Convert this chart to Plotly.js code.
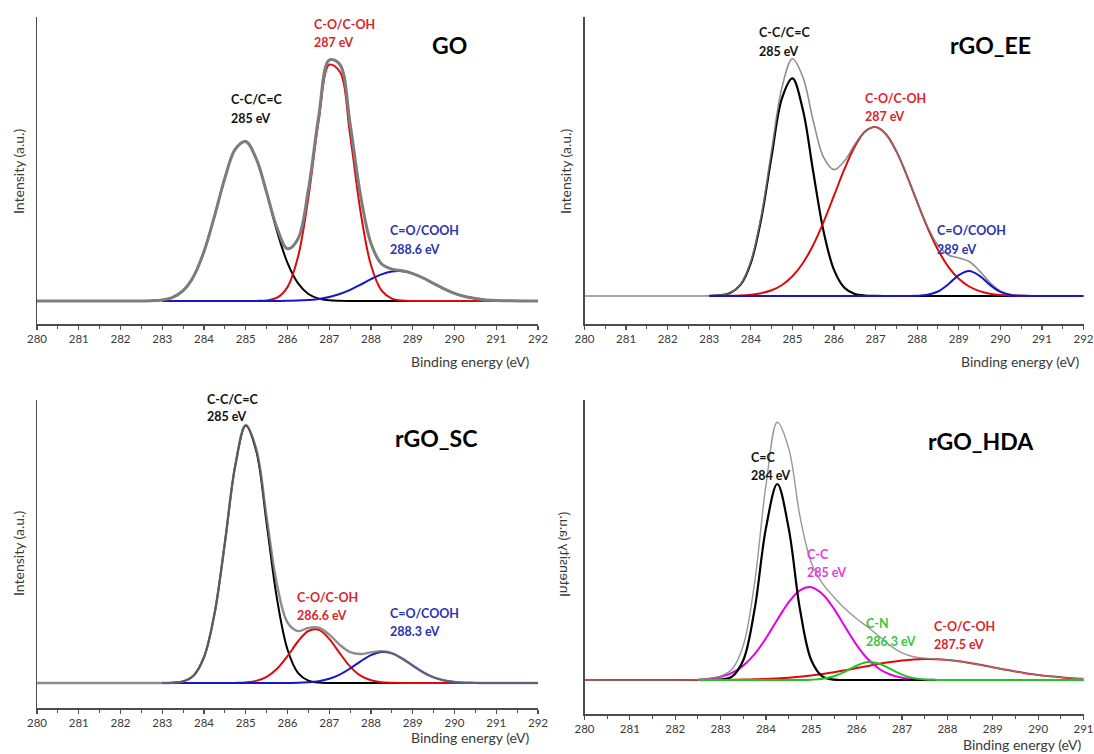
<!DOCTYPE html>
<html>
<head>
<meta charset="utf-8">
<script src="https://cdn.plot.ly/plotly-3.0.1.min.js"></script>
<style>
  html, body { margin: 0; padding: 0; background: #ffffff; }
  #chart { width: 1094px; height: 754px; }
</style>
</head>
<body>
<div id="chart"></div>
<script>
// ---- Binding energy grids (eV) ----
const EV_292 = [280, 282.5, 282.75, 283, 283.25, 283.5, 283.75, 284, 284.25, 284.5, 284.75,
  285, 285.25, 285.5, 285.75, 286, 286.25, 286.5, 286.75, 287, 287.25, 287.5, 287.75,
  288, 288.25, 288.5, 288.75, 289, 289.25, 289.5, 289.75, 290, 290.25, 290.5, 290.75, 291, 292];
const EV_291 = [280, 282.5, 282.75, 283, 283.25, 283.5, 283.75, 284, 284.25, 284.5, 284.75,
  285, 285.25, 285.5, 285.75, 286, 286.25, 286.5, 286.75, 287, 287.25, 287.5, 287.75,
  288, 288.25, 288.5, 288.75, 289, 289.25, 289.5, 289.75, 290, 290.25, 290.5, 290.75, 291];

// ---- GO: C 1s components (a.u.) ----
const GO_CC = [null, null, null, 1.1, 3.7, 10.4, 24.6, 49.5, 84.6, 122.9, 151.9, 159.5, 142.3, 108.0, 69.6,
  38.1, 17.8, 7.0, 2.4, 0.7, 0.2, 0, 0, 0, 0, 0, 0, 0, 0, 0, 0, 0, 0, 0, 0, 0, 0];
const GO_CO = [null, null, null, 0, 0, 0, 0, 0, 0, 0, 0, 0, 0.1, 0.6, 3.3,
  13.9, 43.9, 103.4, 181.2, 236.3, 229.5, 165.8, 89.2, 35.7, 10.6, 2.4, 0.4, 0, 0, 0, 0, 0, 0, 0, 0, 0, 0];
const GO_COOH = [null, null, null, 0, 0, 0, 0, 0, 0, 0, 0, 0, 0, 0, 0.1,
  0.2, 0.4, 1.0, 2.0, 4.0, 7.0, 11.2, 16.4, 21.9, 26.6, 29.5, 29.8, 27.4, 23.0, 17.5, 12.2, 7.7, 4.5, 2.4, 1.1, 0.5, 0];
const GO_ENV = [0, 0.1, 0.3, 1.1, 3.7, 10.4, 24.6, 49.5, 84.6, 122.9, 151.9, 159.5, 142.4, 108.6, 73.0,
  52.2, 62.1, 111.4, 185.6, 241.0, 236.7, 177.0, 105.6, 57.6, 37.2, 31.9, 30.2, 27.4, 23.0, 17.5, 12.2, 7.7, 4.5, 2.4, 1.1, 0.5, 0];

// ---- rGO_EE ----
const EE_CC = [null, null, null, 0.1, 0.6, 2.9, 11.1, 33.2, 77.3, 140.2, 197.9, 217.6, 186.4, 124.3, 64.6,
  26.1, 8.2, 2.0, 0.4, 0.1, 0, 0, 0, 0, 0, 0, 0, 0, 0, 0, 0, 0, 0, 0, 0, 0, 0];
const EE_CO = [null, null, null, 0, 0.1, 0.2, 0.5, 1.3, 2.8, 5.7, 11.0, 19.7, 32.8, 51.0, 74.1,
  100.3, 126.8, 149.5, 164.5, 168.9, 161.8, 144.6, 120.7, 93.9, 68.2, 46.2, 29.2, 17.2, 9.5, 4.9, 2.3, 1.0, 0.4, 0.2, 0.1, 0, 0];
const EE_COOH = [null, null, null, 0, 0, 0, 0, 0, 0, 0, 0, 0, 0, 0, 0,
  0, 0, 0, 0, 0, 0, 0, 0, 0.2, 1.2, 4.5, 11.8, 20.9, 25.0, 20.2, 11.1, 4.1, 1.0, 0.2, 0, 0, 0];
const EE_ENV = [0, 0, 0, 0.1, 0.7, 3.1, 11.6, 34.5, 80.1, 145.9, 208.9, 237.3, 219.2, 175.3, 138.7,
  126.4, 135.0, 151.5, 164.9, 169.0, 161.8, 144.6, 120.7, 94.1, 69.4, 50.7, 41.0, 38.1, 34.5, 25.1, 13.4, 5.1, 1.4, 0.4, 0.1, 0, 0];

// ---- rGO_SC ----
const SC_CC = [null, null, null, 0, 0.3, 1.6, 7.4, 25.8, 68.9, 140.2, 217.6, 257.5, 232.3, 159.7, 83.8,
  33.5, 10.2, 2.4, 0.4, 0.1, 0, 0, 0, 0, 0, 0, 0, 0, 0, 0, 0, 0, 0, 0, 0, 0, 0];
const SC_CO = [null, null, null, 0, 0, 0, 0, 0, 0, 0, 0.1, 0.6, 2.1, 6.1, 14.2,
  26.9, 41.5, 52.0, 53.1, 44.1, 29.8, 16.4, 7.3, 2.7, 0.8, 0.2, 0, 0, 0, 0, 0, 0, 0, 0, 0, 0, 0];
const SC_COOH = [null, null, null, 0, 0, 0, 0, 0, 0, 0, 0, 0, 0, 0, 0,
  0.1, 0.2, 0.7, 1.8, 4.2, 8.4, 14.5, 21.7, 27.9, 30.9, 29.6, 24.4, 17.4, 10.7, 5.6, 2.6, 1.0, 0.3, 0.1, 0, 0, 0];
const SC_ENV = [0, 0, 0, 0, 0.3, 1.6, 7.4, 25.8, 68.9, 140.2, 217.7, 258.1, 234.4, 165.8, 98.0,
  60.5, 51.9, 55.1, 55.3, 48.4, 38.2, 30.9, 29.0, 30.6, 31.7, 29.8, 24.4, 17.4, 10.7, 5.6, 2.6, 1.0, 0.3, 0.1, 0, 0, 0];

// ---- rGO_HDA ----
const HDA_CdC = [null, 0, 0, 0.3, 3.3, 19.7, 70.7, 151.9, 196.0, 151.9, 70.7, 19.7, 3.3, 0.3, 0,
  0, 0, 0, 0, 0, 0, 0, 0, 0, 0, 0, 0, 0, 0, 0, 0, 0, 0, 0, 0, 0];
const HDA_CC = [null, 0.4, 1.3, 3.2, 7.1, 14.4, 25.9, 41.7, 60.2, 77.7, 89.7, 92.8, 85.8, 71.1, 52.7,
  34.9, 20.7, 11.0, 5.2, 2.2, 0.8, 0.3, 0.1, 0, 0, 0, 0, 0, 0, 0, 0, 0, 0, 0, 0, 0];
const HDA_CN = [null, 0, 0, 0, 0, 0, 0, 0, 0, 0, 0, 0.3, 1.2, 3.7, 8.5,
  14.4, 17.9, 16.3, 10.9, 5.4, 1.9, 0.5, 0.1, 0, 0, 0, 0, 0, 0, 0, 0, 0, 0, 0, 0, 0];
const HDA_CO = [0, 0, 0.1, 0.2, 0.3, 0.4, 0.7, 1.0, 1.6, 2.3, 3.3, 4.5, 6.0, 7.7, 9.7,
  11.9, 14.1, 16.2, 18.0, 19.5, 20.6, 21.0, 20.8, 20.0, 18.7, 16.9, 14.9, 12.7, 10.6, 8.5, 6.6, 5.0, 3.7, 2.7, 1.8, 1.2];
const HDA_ENV = [0, 0.4, 1.4, 3.7, 10.7, 34.5, 97.3, 194.6, 257.8, 231.9, 163.7, 117.3, 96.3, 82.8, 70.9,
  61.2, 52.7, 43.5, 34.1, 27.1, 23.3, 21.8, 21.0, 20.0, 18.7, 16.9, 14.9, 12.7, 10.6, 8.5, 6.6, 5.0, 3.7, 2.7, 1.8, 1.2];

// ---- Text ----
const PANEL_NAMES = ['GO', 'rGO_EE', 'rGO_SC', 'rGO_HDA'];
const X_TITLE = 'Binding energy (eV)';
const Y_TITLE = 'Intensity (a.u.)';

// ---- Page geometry (pixels) ----
const W = 1094, H = 754;
const px = v => v / W;
const py = v => 1 - v / H;

const PANELS = [
  { xl: 37,    xr: 538,    yt: 17,  yb: 324, xmax: 292, yr: [-23, 284] },
  { xl: 584.5, xr: 1083.5, yt: 17,  yb: 324, xmax: 292, yr: [-28, 279] },
  { xl: 37,    xr: 538,    yt: 400, yb: 708, xmax: 292, yr: [-25, 283] },
  { xl: 584.5, xr: 1083.5, yt: 400, yb: 714, xmax: 291, yr: [-34, 280] }
];

const COL = {
  black: '#000000', red: '#dc0a0a', blue: '#1616c8', magenta: '#e600e6', green: '#22c422',
  redTxt: '#d8262b', blueTxt: '#2a33b0', magTxt: '#e03ce0', greenTxt: '#3cc43c', axis: '#4d4d4d', txt: '#3a3a3a'
};

const FONT = 'Lato, "Open Sans", "DejaVu Sans", sans-serif';

function curve(i, x, y, color, width, opacity) {
  const s = i === 0 ? '' : String(i + 1);
  return {
    type: 'scatter', mode: 'lines', x: x, y: y,
    xaxis: 'x' + s, yaxis: 'y' + s,
    line: { color: color, width: width, shape: 'spline', smoothing: 1 },
    opacity: opacity === undefined ? 1 : opacity,
    hoverinfo: 'skip', showlegend: false
  };
}

const data = [
  // GO
  curve(0, EV_292, GO_CC, COL.black, 2),
  curve(0, EV_292, GO_CO, COL.red, 2),
  curve(0, EV_292, GO_COOH, COL.blue, 2),
  curve(0, EV_292, GO_ENV, '#7d7d7d', 3),
  // rGO_EE
  curve(1, EV_292, EE_CC, COL.black, 2.2),
  curve(1, EV_292, EE_CO, COL.red, 2),
  curve(1, EV_292, EE_ENV, '#7a7a7a', 1.6, 0.85),
  curve(1, EV_292, EE_COOH, COL.blue, 2),
  // rGO_SC
  curve(2, EV_292, SC_CC, COL.black, 2),
  curve(2, EV_292, SC_CO, COL.red, 2),
  curve(2, EV_292, SC_COOH, COL.blue, 2),
  curve(2, EV_292, SC_ENV, '#707070', 2.4, 0.8),
  // rGO_HDA
  curve(3, EV_291, HDA_CO, COL.red, 2),
  curve(3, EV_291, HDA_CC, COL.magenta, 2),
  curve(3, EV_291, HDA_CdC, COL.black, 2.2),
  curve(3, EV_291, HDA_CN, COL.green, 2),
  curve(3, EV_291, HDA_ENV, '#858585', 1.4, 0.85)
];

const layout = {
  width: W, height: H,
  margin: { l: 0, r: 0, t: 0, b: 0, pad: 0 },
  paper_bgcolor: '#ffffff', plot_bgcolor: '#ffffff',
  showlegend: false,
  font: { family: FONT, color: COL.txt, size: 11 },
  annotations: []
};

PANELS.forEach((p, i) => {
  const s = i === 0 ? '' : String(i + 1);
  layout['xaxis' + s] = {
    domain: [px(p.xl), px(p.xr)], anchor: 'y' + s,
    range: [280, p.xmax], dtick: 1, tick0: 280,
    showline: true, linecolor: COL.axis, linewidth: 1.5,
    ticks: 'outside', ticklen: 4, tickwidth: 1.2, tickcolor: COL.axis,
    minor: { ticks: 'outside', ticklen: 3, tickwidth: 1, tickcolor: COL.axis, dtick: 0.5 },
    ticklabeloverflow: 'allow',
    showgrid: false, zeroline: false, fixedrange: true,
    tickfont: { family: FONT, size: 11.5, color: COL.txt }
  };
  layout['yaxis' + s] = {
    domain: [py(p.yb), py(p.yt)], anchor: 'x' + s,
    range: p.yr, showline: true, linecolor: COL.axis, linewidth: 1.5,
    ticks: '', showticklabels: false, showgrid: false, zeroline: false, fixedrange: true
  };
});

function note(text, x, y, opts) {
  layout.annotations.push(Object.assign({
    text: text, xref: 'paper', yref: 'paper', x: px(x), y: py(y),
    showarrow: false, xanchor: 'left', yanchor: 'middle',
    font: { family: FONT, size: 13, color: COL.black }
  }, opts || {}));
}

function peak(x, y1, line1, line2, color) {
  const f = { family: FONT, size: 12.5, color: color, weight: 'bold' };
  note('<b>' + line1 + '</b>', x, y1, { font: f });
  note('<b>' + line2 + '</b>', x, y1 + 18, { font: f });
}

// Sample names
const TITLE_POS = [[449, 45], [990, 45], [436, 438], [981, 441]];
PANEL_NAMES.forEach((n, i) => {
  note('<b>' + n + '</b>', TITLE_POS[i][0], TITLE_POS[i][1],
    { xanchor: 'center', font: { family: FONT, size: 23, color: '#000000', weight: 'bold' } });
});

// Axis titles
const XT_POS = [[531, 361], [1081, 362], [531, 737], [1083, 744]];
XT_POS.forEach(p => note(X_TITLE, p[0], p[1], { xanchor: 'right', font: { family: FONT, size: 14, color: COL.txt } }));
const YT_POS = [[18, 172], [565, 172], [18, 554], [566, 555]];
YT_POS.forEach(p => note(Y_TITLE, p[0], p[1], { xanchor: 'center', textangle: -90, font: { family: FONT, size: 14, color: COL.txt } }));
const MIRROR_INDEX = layout.annotations.length - 1;

// Peak assignments
peak(229, 100, 'C-C/C=C', '285 eV', '#111111');
peak(312, 25, 'C-O/C-OH', '287 eV', COL.redTxt);
peak(388, 231, 'C=O/COOH', '288.6 eV', COL.blueTxt);

peak(757, 33, 'C-C/C=C', '285 eV', '#111111');
peak(863, 98, 'C-O/C-OH', '287 eV', COL.redTxt);
peak(935, 231, 'C=O/COOH', '289 eV', COL.blueTxt);

peak(205, 399, 'C-C/C=C', '285 eV', '#111111');
peak(295, 597, 'C-O/C-OH', '286.6 eV', COL.redTxt);
peak(388, 613, 'C=O/COOH', '288.3 eV', COL.blueTxt);

peak(749, 457, 'C=C', '284 eV', '#111111');
peak(805, 554, 'C-C', '285 eV', COL.magTxt);
peak(864, 623, 'C-N', '286.3 eV', COL.greenTxt);
peak(932, 626, 'C-O/C-OH', '287.5 eV', COL.redTxt);

Plotly.newPlot('chart', data, layout, { staticPlot: true, displayModeBar: false }).then(gd => {
  // the rGO_HDA intensity label is printed mirrored
  const g = gd.querySelector('.annotation[data-index="' + MIRROR_INDEX + '"]');
  if (g) {
    const cx = YT_POS[3][0];
    g.setAttribute('transform', 'translate(' + (2 * cx) + ',0) scale(-1,1)');
  }
});
</script>
</body>
</html>
